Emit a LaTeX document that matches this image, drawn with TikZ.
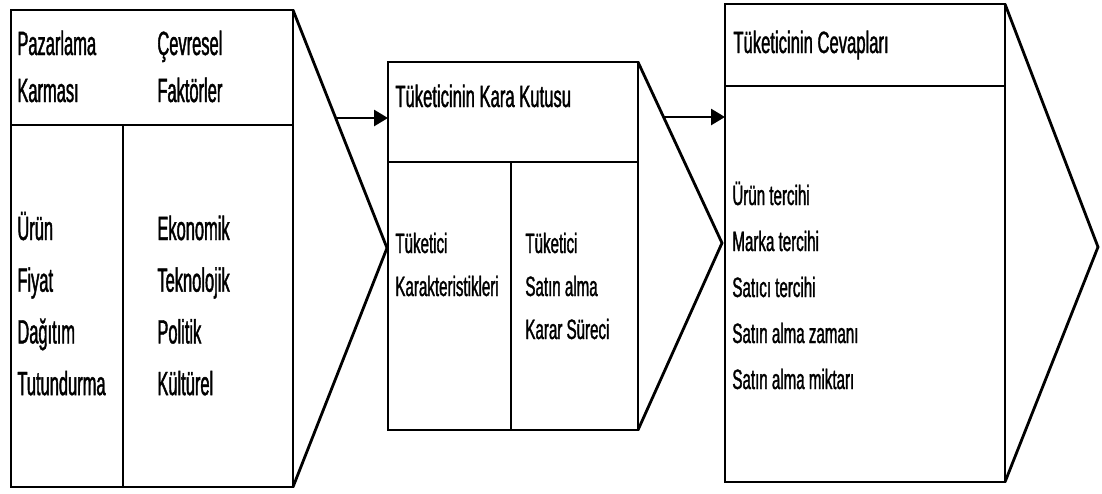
\documentclass[tikz,border=0pt]{standalone}
\usepackage{fontspec}
\setmainfont{Liberation Sans}[FakeStretch=0.54, FakeBold=1.2]
\newfontfamily\narrowfont{Liberation Sans}[FakeStretch=0.49, FakeBold=1.2]
\usetikzlibrary{arrows.meta}

\tikzset{
  panel/.style={line width=1.4pt, line join=miter},
  item/.style={anchor=base west, inner sep=0pt},
  flow/.style={line width=1.4pt, -{Triangle[length=7pt,width=8pt]}},
  mixtext/.style={font=\narrowfont\fontsize{16.8pt}{20pt}\selectfont},
  boxtext/.style={font=\fontsize{14pt}{17pt}\selectfont},
  headtext/.style={font=\fontsize{15.4pt}{18pt}\selectfont}
}

\begin{document}
\begin{tikzpicture}[x=0.5pt,y=-0.5pt]
\useasboundingbox (0,0) rectangle (1102,493);

% panel 1: stimuli
\draw[panel] (11,10) rectangle (293,487);
\draw[panel] (293,10) -- (387,248) -- (293,487);
\draw[panel] (11,125) -- (293,125)   (123,125) -- (123,487);
\node[item, mixtext] (mixhead1) at (17,55) {Pazarlama};
\node[item, mixtext] (mixhead2) at (17,102) {Karması};
\node[item, mixtext] (envhead1) at (157,55) {Çevresel};
\node[item, mixtext] (envhead2) at (157,102) {Faktörler};
\foreach \txt [count=\i from 0] in {Ürün, Fiyat, Dağıtım, Tutundurma}
  \node[item, mixtext] (mix\i) at (17,{240+51.7*\i}) {\txt};
\foreach \txt [count=\i from 0] in {Ekonomik, Teknolojik, Politik, Kültürel}
  \node[item, mixtext] (env\i) at (157,{240+51.7*\i}) {\txt};

% panel 2: black box
\draw[panel] (388,62) rectangle (638,430);
\draw[panel] (638,62) -- (722,243) -- (638,430);
\draw[panel] (388,162) -- (638,162)   (511,162) -- (511,430);
\node[item, headtext] (boxhead) at (395,107) {Tüketicinin Kara Kutusu};
\foreach \txt [count=\i from 0] in {Tüketici, Karakteristikleri}
  \node[item, boxtext] (char\i) at (395,{253+43*\i}) {\txt};
\foreach \txt [count=\i from 0] in {Tüketici, Satın alma, Karar Süreci}
  \node[item, boxtext] (proc\i) at (525,{253+43*\i}) {\txt};

% panel 3: responses
\draw[panel] (725,4) rectangle (1005,482);
\draw[panel] (1005,4) -- (1098,247) -- (1005,482);
\draw[panel] (725,86) -- (1005,86);
\node[item, headtext] (resphead) at (733,53) {Tüketicinin Cevapları};
\foreach \txt [count=\i from 0] in {Ürün tercihi, Marka tercihi, Satıcı tercihi,
    Satın alma zamanı, Satın alma miktarı}
  \node[item, boxtext] (resp\i) at (732,{205+46*\i}) {\txt};

% connectors
\coordinate (out1) at (336,118);
\coordinate (in2) at (388,118);
\coordinate (out2) at (664,117);
\coordinate (in3) at (725,117);
\draw[flow] (out1) -- (in2);
\draw[flow] (out2) -- (in3);
\end{tikzpicture}
\end{document}
